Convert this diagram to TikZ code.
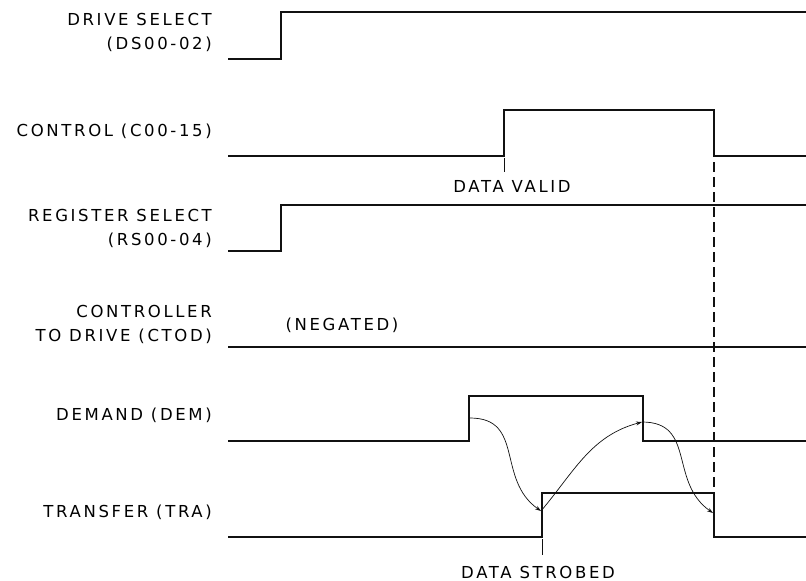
\documentclass[tikz,border=0pt]{standalone}
\usepackage{fontspec}
\setmainfont{DejaVu Sans}[LetterSpace=16]
\usetikzlibrary{arrows.meta}
\definecolor{ink}{HTML}{111111}

\begin{document}
\begin{tikzpicture}[x=1pt, y=-1pt, line cap=butt, line join=miter,
  font=\fontsize{16.5}{24}\selectfont,
  sig/.style={ink, line width=2pt},
  lbl/.style={anchor=east, align=right, inner sep=0pt},
  note/.style={inner sep=0pt},
  tick/.style={ink, line width=1pt},
  cause/.style={ink, line width=0.7pt, -{Stealth[length=6pt, width=4pt]}}]
  \useasboundingbox (0,0) rectangle (806,581);
  \def\xs{228}  % start of all traces
  \def\xe{806}  % end of all traces

  % ---------- signal names ----------
  \node[lbl] (ds)   at (212,32)  {DRIVE SELECT\\(DS00-02)};
  \node[lbl] (ctl)  at (212,131) {CONTROL (C00-15)};
  \node[lbl] (rs)   at (212,228) {REGISTER SELECT\\(RS00-04)};
  \node[lbl] (ctod) at (212,324) {CONTROLLER\\TO DRIVE (CTOD)};
  \node[lbl] (dem)  at (212,415) {DEMAND (DEM)};
  \node[lbl] (tra)  at (212,512) {TRANSFER (TRA)};

  % ---------- traces ----------
  \draw[sig] (\xs,59) -- (281,59) -- (281,12) -- (\xe,12);
  \draw[sig] (\xs,156) -- (504,156) -- (504,110) -- (714,110) -- (714,156) -- (\xe,156);
  \draw[sig] (\xs,251) -- (281,251) -- (281,205) -- (\xe,205);
  \draw[sig] (\xs,347) -- (\xe,347);
  \draw[sig] (\xs,441) -- (469,441) -- (469,396) -- (643,396) -- (643,441) -- (\xe,441);
  \draw[sig] (\xs,537) -- (542,537) -- (542,493) -- (714,493) -- (714,537) -- (\xe,537);

  % ---------- timing marks ----------
  \draw[ink, line width=1.2pt, dash pattern=on 10pt off 5pt] (714,162) -- (714,493);
  \draw[tick] (504,158) -- (504,172);
  \node[note] (valid) at (512,186) {DATA VALID};
  \node[note] (neg) at (342,325) {(NEGATED)};
  \draw[tick] (542,539) -- (542,555);
  \node[note] (strobe) at (538,572) {DATA STROBED};

  % ---------- handshake ----------
  \coordinate (demup) at (470,418);
  \coordinate (traup) at (541,511);
  \coordinate (demdn) at (642,422);
  \coordinate (tradn) at (713,513);
  \draw[cause] (demup) to[out=0, in=145, looseness=1.2] (traup);
  \draw[cause] (traup) to[out=50, in=195] (demdn);
  \draw[cause] (demdn) to[out=0, in=145, looseness=1.2] (tradn);
\end{tikzpicture}
\end{document}
